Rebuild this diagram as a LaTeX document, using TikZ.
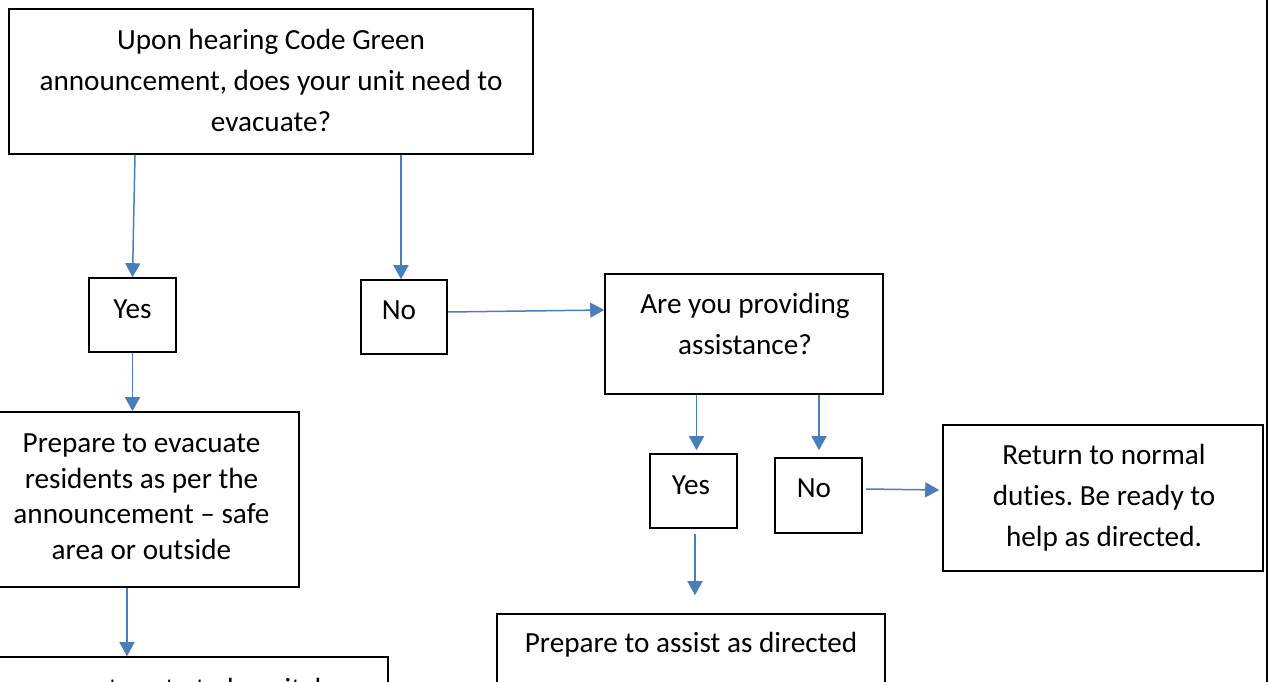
\documentclass[tikz,border=0pt]{standalone}
\usepackage{fontspec}
\setmainfont{Carlito}[Ligatures=NoCommon]
\usetikzlibrary{arrows.meta}
\definecolor{conn}{RGB}{74,126,187}
\frenchspacing
\tikzset{
  box/.style={draw=black, line width=1.6pt, inner sep=0pt, fill=none},
  txt/.style={font=\fontsize{29.2}{41}\selectfont, align=center, inner sep=0pt, text=black},
  txtsingle/.style={font=\fontsize{29.2}{35.4}\selectfont, align=center, inner sep=0pt, text=black},
  arr/.style={draw=conn, line width=1.5pt, -{Triangle[width=15pt,length=14pt]}}
}
\begin{document}
\begin{tikzpicture}[x=1pt,y=-1pt]
\useasboundingbox (0,0) rectangle (1269,682);
\clip (0,0) rectangle (1269,682);
% boxes
\node[box, minimum width=524pt, minimum height=145pt] (q1) at (271,81.5) {};
\node[box, minimum width=87pt, minimum height=74pt] (yes1) at (132.5,315) {};
\node[box, minimum width=86pt, minimum height=74pt] (no1) at (404,317) {};
\node[box, minimum width=278pt, minimum height=120pt] (assist) at (744,334) {};
\node[box, minimum width=315pt, minimum height=175pt] (prep) at (141.5,499.5) {};
\node[box, minimum width=87pt, minimum height=74pt] (yes2) at (693.5,491) {};
\node[box, minimum width=87pt, minimum height=75pt] (no2) at (818.5,495.5) {};
\node[box, minimum width=320pt, minimum height=146pt] (ret) at (1103,498) {};
\node[box, minimum width=388pt, minimum height=120pt] (help) at (691,674) {};
\node[box, minimum width=448pt, minimum height=120pt] (hosp) at (164,717) {};
% texts
\node[txt] (q1t) at (271,82.8) {\strut Upon hearing Code Green\\\strut announcement, does your unit need to\\\strut evacuate?};
\node[txt] (yes1t) at (132.5,309.8) {\strut Yes};
\node[txt] (no1t) at (399,310.8) {\strut No};
\node[txt] (asst) at (745,325.3) {\strut Are you providing\\\strut assistance?};
\node[txtsingle] (prept) at (141.5,499) {\strut Prepare to evacuate\\\strut residents as per the\\\strut announcement – safe\\\strut area or outside};
\node[txt] (yes2t) at (691,485.8) {\strut Yes};
\node[txt] (no2t) at (814,488.8) {\strut No};
\node[txt] (rett) at (1104,496.8) {\strut Return to normal\\\strut duties. Be ready to\\\strut help as directed.};
\node[txt] (helpt) at (691,644.5) {\strut Prepare to assist as directed};
\node[txt] (hospt) at (152,689.8) {\strut Use correct route to hospital};
% connectors
\draw[arr] ([xshift=-136pt]q1.south) -- (yes1.north);
\draw[arr] ([xshift=130pt]q1.south) -- ([xshift=-3pt]no1.north);
\draw[arr] ([yshift=5pt]no1.east) -- ([yshift=24pt]assist.west);
\draw[arr] (yes1.south) -- (yes1.south |- prep.north);
\coordinate (pa) at ([xshift=-14.5pt]prep.south);
\draw[arr] (pa) -- (pa |- hosp.north);
\draw[arr] ([xshift=-47.5pt]assist.south) -- ([xshift=3pt,yshift=3pt]yes2.north);
\draw[arr] ([xshift=75pt]assist.south) -- ([xshift=0.5pt,yshift=7pt]no2.north);
\draw[arr] ([xshift=3pt,yshift=6.5pt]no2.east) -- ([xshift=-3pt,yshift=8pt]ret.west);
\draw[arr] ([xshift=1.5pt,yshift=-5pt]yes2.south) -- ([xshift=4pt,yshift=18pt]help.north);
% page edge
\draw[black, line width=1.5pt] (1267,0) -- (1267,682);
\end{tikzpicture}
\end{document}
